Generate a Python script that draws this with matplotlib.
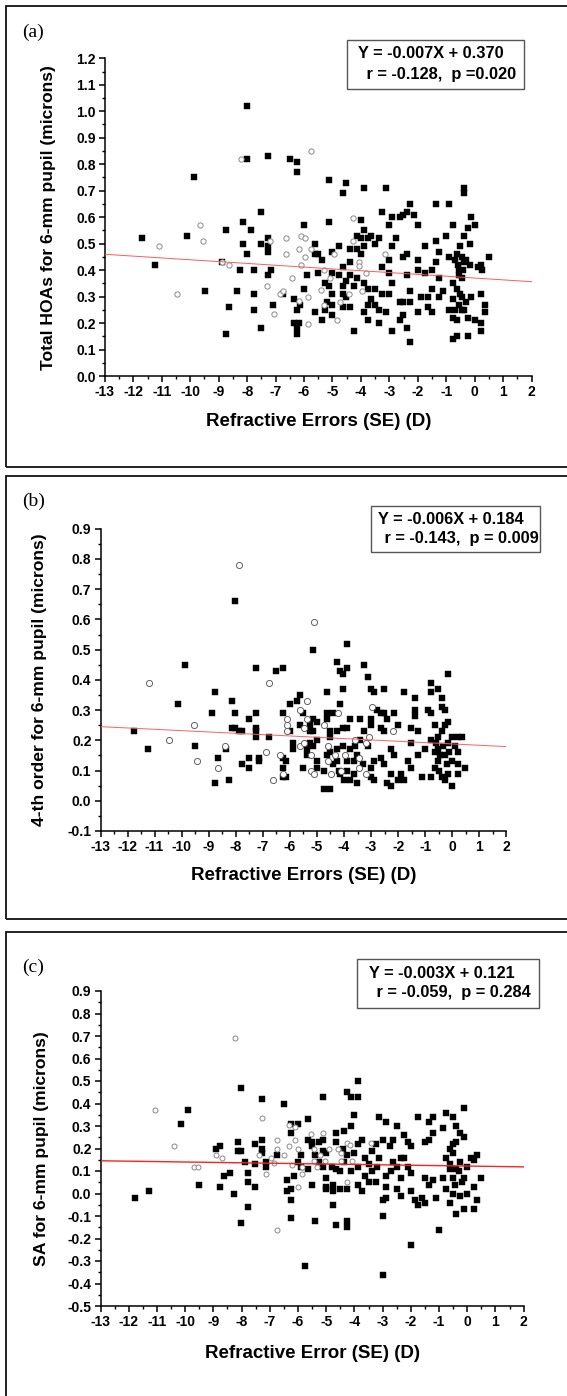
import numpy as np
import matplotlib.pyplot as plt
from matplotlib.patches import Rectangle
from matplotlib.ticker import MultipleLocator, FormatStrFormatter

plt.rcParams.update({
    "font.family": "sans-serif",
    "font.sans-serif": ["Liberation Sans", "Arial", "DejaVu Sans"],
    "font.weight": "bold",
    "font.size": 10,
    "axes.unicode_minus": False,
})

# ---------------------------------------------------------
# DATA
# ---------------------------------------------------------

# (a) Total HOAs, filled squares / open circles
a_filled = [
    (-11.7, .52), (-11.25, .42), (-10.13, .53), (-9.87, .75), (-9.49, .32),
    (-8.88, .43), (-8.75, .55), (-8.75, .16), (-8.63, .26), (-8.37, .32),
    (-8.25, .40), (-8.13, .58), (-8.13, .50), (-8.0, 1.02), (-8.0, .82),
    (-8.0, .46), (-7.88, .55), (-7.75, .40), (-7.75, .31), (-7.75, .25),
    (-7.51, .62), (-7.51, .18), (-7.51, .50), (-7.25, .83), (-7.25, .52),
    (-7.25, .49), (-7.25, .47), (-7.25, .38), (-7.15, .40), (-7.09, .27),
    (-6.75, .31), (-6.5, .82), (-6.36, .29), (-6.26, .81), (-6.26, .77),
    (-6.26, .25), (-6.36, .20), (-6.26, .16), (-6.26, .18), (-6.16, .20),
    (-6.14, .27), (-6.0, .57), (-6.0, .33), (-5.88, .38), (-5.63, .50),
    (-5.63, .24), (-5.63, .46), (-5.5, .46), (-5.5, .39), (-5.38, .44),
    (-5.38, .21), (-5.28, .25), (-5.25, .35), (-5.18, .28), (-5.13, .74),
    (-5.13, .58), (-5.13, .34), (-5.03, .39), (-5.0, .47), (-5.0, .31),
    (-5.0, .23), (-5.0, .27), (-4.76, .49), (-4.76, .38), (-4.64, .69),
    (-4.64, .41), (-4.64, .34), (-4.64, .31), (-4.64, .26), (-4.51, .73),
    (-4.51, .36), (-4.51, .30), (-4.38, .48), (-4.38, .43), (-4.38, .38),
    (-4.38, .26), (-4.25, .17), (-4.25, .34), (-4.14, .53), (-4.14, .48),
    (-4.14, .37), (-4.01, .59), (-4.01, .52), (-4.01, .46), (-3.89, .71),
    (-3.89, .55), (-3.89, .49), (-3.89, .35), (-3.89, .24), (-3.76, .52),
    (-3.76, .33), (-3.76, .21), (-3.76, .27), (-3.63, .53), (-3.63, .29),
    (-3.51, .50), (-3.51, .27), (-3.51, .33), (-3.38, .52), (-3.38, .20),
    (-3.38, .25), (-3.25, .62), (-3.25, .41), (-3.25, .31), (-3.12, .71),
    (-3.12, .24), (-3.02, .57), (-3.02, .44), (-3.02, .39), (-3.02, .31),
    (-2.89, .60), (-2.89, .49), (-2.89, .35), (-2.89, .17), (-2.76, .52),
    (-2.64, .60), (-2.64, .28), (-2.64, .21), (-2.51, .61), (-2.51, .45),
    (-2.51, .28), (-2.51, .23), (-2.38, .62), (-2.38, .46), (-2.38, .38),
    (-2.38, .18), (-2.26, .65), (-2.26, .32), (-2.26, .13), (-2.26, .28),
    (-2.13, .61), (-2.0, .57), (-2.0, .44), (-2.0, .40), (-2.0, .24),
    (-1.88, .30), (-1.75, .49), (-1.75, .39), (-1.63, .30), (-1.63, .26),
    (-1.5, .40), (-1.5, .33), (-1.5, .24), (-1.37, .65), (-1.37, .51),
    (-1.37, .43), (-1.25, .47), (-1.25, .37), (-1.25, .30), (-1.12, .32),
    (-1.0, .53), (-0.89, .65), (-0.89, .45), (-0.89, .25), (-0.76, .57),
    (-0.76, .35), (-0.76, .29), (-0.76, .14), (-0.76, .22), (-0.63, .46),
    (-0.63, .33), (-0.63, .21), (-0.63, .15), (-0.54, .40), (-0.51, .49),
    (-0.51, .31), (-0.38, .71), (-0.38, .69), (-0.38, .53), (-0.38, .43),
    (-0.38, .25), (-0.25, .56), (-0.25, .22), (-0.25, .15), (-0.16, .50),
    (-0.16, .42), (-0.13, .60), (-0.13, .30), (0.0, .57), (0.0, .21),
    (0.13, .41), (0.23, .42), (0.23, .31), (0.23, .20), (0.23, .17),
    (0.25, .40), (0.35, .27), (0.35, .24), (0.5, .45),
    (-0.7, .44), (-0.6, .42), (-0.45, .45), (-0.42, .40), (-0.3, .44),
    (-0.55, .38), (-0.45, .37), (-0.55, .27), (-0.45, .30), (-0.7, .25),
    (-0.45, .25), (-0.3, .28),
]
a_open = [
    (-11.1, .49), (-10.45, .31), (-9.67, .57), (-9.54, .51), (-8.88, .43),
    (-8.63, .42), (-8.2, .82), (-7.3, .34), (-7.19, .51), (-7.06, .235),
    (-6.86, .31), (-6.73, .32), (-6.63, .52), (-6.63, .46), (-6.42, .37),
    (-6.19, .48), (-6.19, .285), (-6.09, .53), (-6.09, .42), (-5.97, .52),
    (-5.97, .45), (-5.86, .30), (-5.86, .195), (-5.75, .85), (-5.75, .48),
    (-5.42, .325), (-5.3, .40), (-5.3, .27), (-5.07, .37), (-4.95, .46),
    (-4.85, .21), (-4.74, .28), (-4.41, .31), (-4.28, .595), (-4.28, .51),
    (-4.06, .43), (-4.06, .415), (-3.96, .32), (-3.83, .39), (-3.16, .46),
]

# (b) 4th order
b_filled = [
    (-11.76, .23), (-11.25, .17), (-10.14, .32), (-9.88, .45), (-9.5, .18),
    (-8.88, .29), (-8.76, .36), (-8.76, .06), (-8.64, .14), (-8.37, .17),
    (-8.25, .07), (-8.13, .33), (-8.13, .24), (-8.01, .66), (-8.01, .29),
    (-8.01, .24), (-7.89, .23), (-7.76, .23), (-7.76, .12), (-7.52, .27),
    (-7.52, .14), (-7.52, .11), (-7.26, .44), (-7.26, .29), (-7.26, .23),
    (-7.26, .21), (-7.26, .24), (-7.13, .14), (-7.13, .13), (-6.76, .21),
    (-6.5, .43), (-6.26, .44), (-6.26, .29), (-6.26, .14), (-6.26, .11),
    (-6.26, .08), (-6.13, .13), (-6.13, .08), (-6.0, .23), (-6.0, .32),
    (-5.87, .19), (-5.87, .17), (-5.75, .33), (-5.63, .35), (-5.63, .25),
    (-5.51, .11), (-5.51, .29), (-5.38, .17), (-5.38, .15), (-5.26, .25),
    (-5.26, .23), (-5.26, .19), (-5.14, .50), (-5.14, .27), (-5.14, .23),
    (-5.14, .18), (-5.01, .26), (-5.01, .20), (-5.01, .13), (-5.01, .11),
    (-4.75, .10), (-4.75, .04), (-4.63, .36), (-4.63, .29), (-4.63, .27),
    (-4.63, .15), (-4.52, .23), (-4.52, .21), (-4.52, .04), (-4.39, .29),
    (-4.39, .12), (-4.27, .46), (-4.27, .23), (-4.27, .17), (-4.27, .13),
    (-4.14, .43), (-4.14, .32), (-4.14, .09), (-4.02, .42), (-4.02, .37),
    (-4.02, .24), (-4.02, .18), (-3.89, .52), (-3.89, .44), (-3.89, .24),
    (-3.89, .10), (-3.76, .27), (-3.76, .17), (-3.76, .07), (-3.64, .13),
    (-3.64, .09), (-3.51, .06), (-3.51, .15), (-3.39, .27), (-3.39, .20),
    (-3.27, .45), (-3.27, .23), (-3.13, .41), (-3.13, .18), (-3.01, .27),
    (-3.01, .37), (-3.01, .25), (-3.01, .11), (-3.01, .08), (-2.89, .36),
    (-2.89, .13), (-2.89, .07), (-2.77, .30), (-2.65, .29), (-2.65, .24),
    (-2.65, .14), (-2.52, .37), (-2.52, .29), (-2.52, .23), (-2.52, .12),
    (-2.4, .27), (-2.4, .06), (-2.28, .17), (-2.28, .09), (-2.28, .05),
    (-2.14, .29), (-2.14, .15), (-2.02, .25), (-2.02, .07), (-1.9, .09),
    (-1.77, .36), (-1.77, .07), (-1.65, .13), (-1.53, .24), (-1.53, .19),
    (-1.53, .11), (-1.39, .34), (-1.39, .30), (-1.39, .28), (-1.26, .15),
    (-1.26, .23), (-1.13, .08), (-1.02, .17), (-0.88, .30), (-0.77, .39),
    (-0.77, .36), (-0.77, .29), (-0.77, .20), (-0.77, .08), (-0.65, .25),
    (-0.65, .16), (-0.65, .11), (-0.53, .37), (-0.53, .21), (-0.53, .17),
    (-0.53, .13), (-0.39, .34), (-0.39, .31), (-0.39, .23), (-0.39, .08),
    (-0.27, .30), (-0.27, .25), (-0.27, .15), (-0.27, .07), (-0.14, .42),
    (-0.14, .26), (-0.14, .19), (-0.14, .09), (-0.02, .21), (-0.02, .13),
    (-0.02, .05), (0.11, .18), (0.23, .21), (0.23, .16), (0.23, .12),
    (0.23, .09), (0.35, .21), (0.47, .11),
    (-0.6, .19), (-0.45, .15), (-0.35, .18), (-0.5, .10), (-0.2, .12),
    (-0.1, .16), (-4.5, .16), (-4.2, .10), (-3.9, .13), (-3.6, .18),
    (-4.0, .07), (-3.3, .12),
]
b_open = [
    (-11.22, .39), (-10.46, .20), (-9.56, .25), (-9.43, .13), (-8.67, .11),
    (-8.41, .18), (-7.89, .78), (-6.88, .16), (-6.76, .39), (-6.63, .07),
    (-6.37, .15), (-6.24, .09), (-6.11, .27), (-6.11, .25), (-6.11, .23),
    (-5.61, .30), (-5.61, .18), (-5.49, .24), (-5.49, .19), (-5.36, .33),
    (-5.36, .27), (-5.22, .15), (-5.22, .10), (-5.1, .59), (-5.1, .09),
    (-4.73, .25), (-4.6, .18), (-4.6, .13), (-4.47, .09), (-4.35, .15),
    (-4.22, .29), (-4.1, .10), (-3.98, .15), (-3.59, .20), (-3.46, .14),
    (-3.46, .11), (-3.2, .19), (-3.2, .09), (-3.07, .21), (-2.95, .31),
    (-2.19, .23),
]

# (c) spherical aberration
c_filled = [
    (-11.77, -.02), (-11.27, .01), (-10.15, .31), (-9.9, .37), (-9.51, .04),
    (-8.9, .20), (-8.77, .21), (-8.77, .03), (-8.64, .08), (-8.4, .09),
    (-8.27, .00), (-8.14, .23), (-8.14, .19), (-8.01, .47), (-8.01, .19),
    (-8.01, -.13), (-7.88, .14), (-7.76, .09), (-7.76, .05), (-7.76, -.06),
    (-7.51, .22), (-7.51, .13), (-7.51, .03), (-7.26, .42), (-7.26, .24),
    (-7.26, .20), (-7.26, .18), (-7.13, .14), (-7.13, .12), (-6.76, .17),
    (-6.51, .40), (-6.38, .06), (-6.38, .01), (-6.26, .31), (-6.26, .27),
    (-6.26, .02), (-6.26, -.03), (-6.26, -.11), (-6.14, .08), (-6.01, .31),
    (-6.01, .14), (-5.88, .17), (-5.88, .12), (-5.76, -.32), (-5.64, .33),
    (-5.64, .24), (-5.64, .11), (-5.51, .04), (-5.51, .23), (-5.51, .21),
    (-5.38, -.12), (-5.38, .17), (-5.26, .23), (-5.26, .14), (-5.13, .43),
    (-5.13, .24), (-5.13, .19), (-5.13, .12), (-5.01, .07), (-5.01, .03),
    (-5.01, .02), (-5.01, .18), (-4.77, -.05), (-4.77, .01), (-4.77, .04),
    (-4.64, .27), (-4.64, .23), (-4.64, .11), (-4.64, -.14), (-4.51, .02),
    (-4.51, .10), (-4.38, .28), (-4.38, .14), (-4.26, .45), (-4.26, .17),
    (-4.26, .02), (-4.26, -.12), (-4.26, -.15), (-4.13, .43), (-4.13, .30),
    (-4.13, .10), (-4.0, .35), (-4.0, .18), (-3.87, .50), (-3.87, .43),
    (-3.87, .22), (-3.87, .12), (-3.87, .04), (-3.74, .24), (-3.74, .01),
    (-3.62, .16), (-3.62, .08), (-3.49, .05), (-3.36, .10), (-3.36, .19),
    (-3.23, .22), (-3.23, .05), (-3.13, .34), (-3.13, .16), (-3.0, -.03),
    (-3.0, -.10), (-3.0, -.36), (-3.0, .24), (-2.87, .32), (-2.87, .08),
    (-2.87, .03), (-2.87, -.02), (-2.74, .21), (-2.62, .24), (-2.62, .14),
    (-2.49, .30), (-2.49, .02), (-2.49, .12), (-2.36, .16), (-2.36, .07),
    (-2.36, -.01), (-2.23, .26), (-2.23, .16), (-2.1, .23), (-2.1, .12),
    (-2.0, .21), (-2.0, .09), (-2.0, .01), (-2.0, -.23), (-1.87, -.03),
    (-1.74, .34), (-1.74, -.05), (-1.62, -.02), (-1.49, .23), (-1.49, .07),
    (-1.49, -.04), (-1.36, .32), (-1.36, .24), (-1.36, .04), (-1.23, .34),
    (-1.23, .27), (-1.23, .06), (-1.1, -.02), (-1.0, -.16), (-0.87, .29),
    (-0.87, .07), (-0.74, .36), (-0.74, .16), (-0.74, .02), (-0.62, -.04),
    (-0.62, .20), (-0.62, .11), (-0.52, .34), (-0.52, .18), (-0.52, .07),
    (-0.52, .00), (-0.39, .30), (-0.39, .23), (-0.39, .11), (-0.39, -.09),
    (-0.26, .27), (-0.26, .14), (-0.26, -.01), (-0.13, .38), (-0.13, .25),
    (-0.13, .07), (-0.13, -.07), (0.0, .00), (0.0, .12), (0.13, .16),
    (0.23, .03), (0.23, -.07), (0.23, .15), (0.36, .17), (0.36, -.03),
    (0.49, .07),
    (-0.6, .13), (-0.45, .04), (-0.3, .10), (-0.5, .22), (-0.2, .05),
    (-3.5, .13), (-3.2, .12), (-2.7, .10), (-4.8, .12), (-4.4, .20),
]
c_open = [
    (-11.06, .37), (-10.41, .21), (-9.67, .12), (-9.54, .12), (-8.9, .17),
    (-8.68, .16), (-8.24, .69), (-7.38, .17), (-7.28, .335), (-7.15, .085),
    (-6.95, .16), (-6.85, .135), (-6.73, .24), (-6.73, .20), (-6.73, -.16),
    (-6.51, .17), (-6.31, .305), (-6.31, .21), (-6.2, .125), (-6.1, .295),
    (-6.1, .24), (-6.0, .20), (-6.0, .03), (-5.87, .12), (-5.87, .085),
    (-5.54, .265), (-5.44, .20), (-5.44, .145), (-5.33, .12), (-5.23, .17),
    (-5.13, .27), (-5.03, .145), (-4.91, .20), (-4.59, .20), (-4.49, .18),
    (-4.49, .145), (-4.28, .225), (-4.28, .05), (-4.17, .215), (-4.08, .145),
    (-3.42, .225),
]

# fitted lines as drawn (slope, intercept)
fit_a = (-0.0069, 0.370)
fit_b = (-0.0044, 0.188)
fit_c = (-0.0018, 0.122)

eq_a = ["Y = -0.007X + 0.370", " r = -0.128,  p =0.020"]
eq_b = ["Y = -0.006X + 0.184", " r = -0.143,  p = 0.009"]
eq_c = ["Y = -0.003X + 0.121", " r = -0.059,  p = 0.284"]

# ---------------------------------------------------------
# LAYOUT (pixels of the 567 x 1396 picture)
# ---------------------------------------------------------

W, H = 567, 1396
fig = plt.figure(figsize=(W / 100, H / 100), dpi=100)


def fx(x):
    return x / W


def fy(y):
    return 1 - y / H


def ax_rect(l, t, r, b):
    return [fx(l), fy(b), (r - l) / W, (b - t) / H]


panels = [
    dict(tag="(a)", tag_xy=(22, 32), frame=(6, 6, 600, 467),
         rect=(104.9, 58.3, 531.6, 376), ylim=(0.0, 1.2),
         filled=a_filled, open_=a_open, fit=fit_a, open_ms=3.8, open_ec="#8a8a8a",
         line_c="#ff5a5a", line_w=0.7,
         ylabel="Total HOAs for 6-mm pupil (microns)", ylab_x=48.8,
         xlabel="Refractive Errors (SE) (D)", xlab_y=421,
         box=(347, 40, 524, 89), eq=eq_a, eq_xy=[(358, 53), (362, 75)]),
    dict(tag="(b)", tag_xy=(22, 501), frame=(6, 476, 600, 919),
         rect=(100.5, 528.7, 506.3, 831), ylim=(-0.1, 0.9),
         filled=b_filled, open_=b_open, fit=fit_b, open_ms=4.4, open_ec="#606060",
         line_c="#ff6060", line_w=0.7,
         ylabel="4-th order for 6-mm pupil (microns)", ylab_x=39.8,
         xlabel="Refractive Errors (SE) (D)", xlab_y=875,
         box=(371, 506, 540, 552), eq=eq_b, eq_xy=[(378, 519), (380, 538)]),
    dict(tag="(c)", tag_xy=(22, 967), frame=(6, 932, 600, 1450),
         rect=(100.5, 991, 523.7, 1306), ylim=(-0.5, 0.9),
         filled=c_filled, open_=c_open, fit=fit_c, open_ms=3.6, open_ec="#8a8a8a",
         line_c="#ff2020", line_w=1.0,
         ylabel="SA for 6-mm pupil (microns)", ylab_x=41.6,
         xlabel="Refractive Error (SE) (D)", xlab_y=1353,
         box=(357, 959, 539, 1008), eq=eq_c, eq_xy=[(369, 973), (372, 993)]),
]

for p in panels:
    # outer frame of the panel
    l, t, r, b = p["frame"]
    fig.add_artist(Rectangle((fx(l), fy(b)), (r - l) / W, (b - t) / H,
                             transform=fig.transFigure, fill=False,
                             edgecolor="#111111", linewidth=1.3))
    fig.text(fx(p["tag_xy"][0]), fy(p["tag_xy"][1]), p["tag"], ha="left", va="center",
             fontsize=14, fontweight="normal", family="Liberation Serif")

    ax = fig.add_axes(ax_rect(*p["rect"]))
    sq = np.array(p["filled"]).T
    ci = np.array(p["open_"]).T
    ax.plot(sq[0], sq[1], ls="none", marker="s", ms=4.1, mfc="black", mec="black",
            mew=0.3, zorder=3)
    ax.plot(ci[0], ci[1], ls="none", marker="o", ms=p["open_ms"], mfc="white",
            mec=p["open_ec"], mew=0.7, zorder=4)

    xs = np.array([-13.0, 2.0])
    ax.plot(xs, p["fit"][0] * xs + p["fit"][1], color=p["line_c"], lw=p["line_w"], zorder=5)

    ax.set_xlim(-13, 2)
    ax.set_ylim(*p["ylim"])
    ax.xaxis.set_major_locator(MultipleLocator(1))
    ax.xaxis.set_minor_locator(MultipleLocator(0.5))
    ax.yaxis.set_major_locator(MultipleLocator(0.1))
    ax.yaxis.set_minor_locator(MultipleLocator(0.05))
    ax.yaxis.set_major_formatter(FormatStrFormatter("%.1f"))
    ax.xaxis.set_major_formatter(FormatStrFormatter("%d"))

    for side in ["top", "right"]:
        ax.spines[side].set_visible(False)
    for side in ["left", "bottom"]:
        ax.spines[side].set_linewidth(1.1)
    ax.tick_params(which="major", direction="out", length=4, width=1.1,
                   labelsize=10, pad=2.5)
    ax.tick_params(which="minor", direction="out", length=2.3, width=1.0)
    for lab in ax.get_xticklabels() + ax.get_yticklabels():
        lab.set_fontweight("bold")
    ax.patch.set_alpha(0)

    # axis titles
    cx = (p["rect"][0] + p["rect"][2]) / 2
    cy = (p["rect"][1] + p["rect"][3]) / 2
    fig.text(fx(cx), fy(p["xlab_y"]), p["xlabel"], ha="center", va="center",
             fontsize=13.5, fontweight="bold")
    fig.text(fx(p["ylab_x"]), fy(cy), p["ylabel"], ha="center", va="center",
             rotation=90, fontsize=12.6, fontweight="bold")

    # equation box
    l, t, r, b = p["box"]
    fig.add_artist(Rectangle((fx(l), fy(b)), (r - l) / W, (b - t) / H,
                             transform=fig.transFigure, fill=False,
                             edgecolor="#555555", linewidth=1.0))
    for line, (x0, y0) in zip(p["eq"], p["eq_xy"]):
        fig.text(fx(x0), fy(y0), line, ha="left", va="center",
                 fontsize=11.8, fontweight="bold")

fig.savefig("out.png", dpi=100)
